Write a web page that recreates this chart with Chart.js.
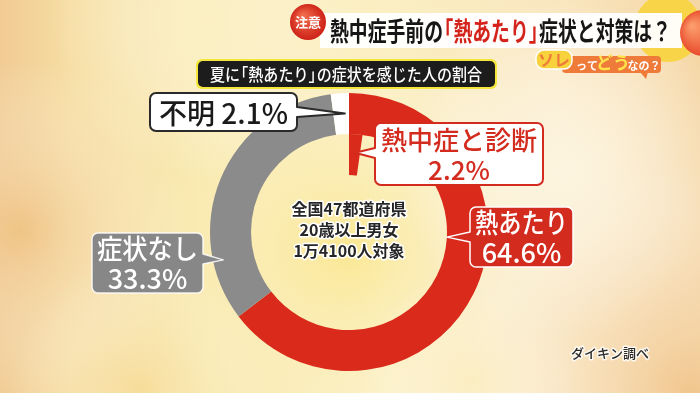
<!DOCTYPE html>
<html lang="ja">
<head>
<meta charset="utf-8">
<title>熱あたり 症状を感じた人の割合</title>
<script src="https://cdn.jsdelivr.net/npm/chart.js@4.4.1/dist/chart.umd.min.js"></script>
<style>
html, body { margin: 0; padding: 0; width: 700px; height: 393px; overflow: hidden; background: #f8e6b0; }
#chart { display: block; }
</style>
</head>
<body>
<canvas id="chart" width="700" height="393"></canvas>
<script>
// 夏に「熱あたり」の症状を感じた人の割合 (ダイキン調べ)
var categories = ['熱あたり', '症状なし', '不明'];
var shares = [64.6, 33.3, 2.1];
// 熱あたりのうち「熱中症と診断」
var subCategory = '熱中症と診断';
var subShare = 2.2;

var centerLines = ['全国47都道府県', '20歳以上男女', '1万4100人対象'];
var titleParts = ['熱中症手前の', '「熱あたり」', '症状と対策は？'];
var subtitle = '夏に「熱あたり」の症状を感じた人の割合';
var source = 'ダイキン調べ';

var RED = '#d92a1b';
var GRAY = '#8b8b8b';
var FONT = '"Noto Sans CJK JP", "Noto Sans", sans-serif';

function pct(v) {
    return v.toFixed(1) + '%';
}

// callout boxes: which arc they point at, and where they sit
var callouts = [
    { ds: 0, idx: 0, lines: [categories[0], pct(shares[0])], box: [470, 207, 103, 60], side: 'left', tailAt: 237,
      tipDeg: 93, tipR: 0.0, fill: '#d42b1f', stroke: '#ffffff', lw: 1.5, color: '#ffffff', size: 27 },
    { ds: 0, idx: 1, lines: [categories[1], pct(shares[1])], box: [92, 233, 111, 60], side: 'right', tailAt: 259,
      tipDeg: 257.5, tipR: 0.75, fill: '#878787', stroke: 'rgba(255,255,255,0.85)', lw: 1.5, color: '#ffffff', size: 27 },
    { ds: 0, idx: 2, lines: [categories[2] + ' ' + pct(shares[2])], box: [150, 93, 147, 38], side: 'right', tailAt: 112,
      tipDeg: 358, tipR: 0.5, fill: '#ffffff', stroke: '#2a2a2a', lw: 2, color: '#1a1a1a', size: 28 },
    { ds: 1, idx: 0, lines: [subCategory, pct(subShare)], box: [375, 123, 168, 62], side: 'left', tailAt: 153,
      tipDeg: 4.3, tipR: 0.55, fill: '#ffffff', stroke: '#d42b1f', lw: 2, color: '#d42b1f', size: 26 }
];

function roundRectPath(ctx, x, y, w, h, r) {
    ctx.beginPath();
    ctx.moveTo(x + r, y);
    ctx.arcTo(x + w, y, x + w, y + h, r);
    ctx.arcTo(x + w, y + h, x, y + h, r);
    ctx.arcTo(x, y + h, x, y, r);
    ctx.arcTo(x, y, x + w, y, r);
    ctx.closePath();
}

function calloutPath(ctx, c, tip) {
    var x = c.box[0], y = c.box[1], w = c.box[2], h = c.box[3], r = 6, half = 5;
    ctx.beginPath();
    ctx.moveTo(x + r, y);
    ctx.lineTo(x + w - r, y);
    ctx.arcTo(x + w, y, x + w, y + r, r);
    if (c.side === 'right') {
        ctx.lineTo(x + w, c.tailAt - half);
        ctx.lineTo(tip.x, tip.y);
        ctx.lineTo(x + w, c.tailAt + half);
    }
    ctx.lineTo(x + w, y + h - r);
    ctx.arcTo(x + w, y + h, x + w - r, y + h, r);
    ctx.lineTo(x + r, y + h);
    ctx.arcTo(x, y + h, x, y + h - r, r);
    if (c.side === 'left') {
        ctx.lineTo(x, c.tailAt + half);
        ctx.lineTo(tip.x, tip.y);
        ctx.lineTo(x, c.tailAt - half);
    }
    ctx.lineTo(x, y + r);
    ctx.arcTo(x, y, x + r, y, r);
    ctx.closePath();
}

function pointOnRing(arc, deg, rFrac) {
    var a = (deg - 90) * Math.PI / 180;
    var r = arc.innerRadius + (arc.outerRadius - arc.innerRadius) * rFrac;
    return { x: arc.x + r * Math.cos(a), y: arc.y + r * Math.sin(a) };
}

function haloText(ctx, text, x, y, font, fill, halo, width) {
    ctx.font = font;
    ctx.lineJoin = 'round';
    ctx.lineWidth = width;
    ctx.strokeStyle = halo;
    ctx.strokeText(text, x, y);
    ctx.fillStyle = fill;
    ctx.fillText(text, x, y);
}

// text with half-width corner brackets, squeezed into a given width
function squeezedText(ctx, parts, x, y, width, size) {
    var glyphs = [];
    var total = 0;
    parts.forEach(function(p) {
        Array.from(p.text).forEach(function(ch) {
            var w = ctx.measureText(ch).width;
            var g = { ch: ch, color: p.color, shift: 0, adv: w };
            if (ch === '「') { g.shift = -size * 0.45; g.adv = size * 0.55; }
            if (ch === '」') { g.adv = size * 0.55; }
            glyphs.push(g);
            total += g.adv;
        });
    });
    ctx.save();
    ctx.translate(x, y);
    ctx.scale(width / total, 1);
    var cx = 0;
    glyphs.forEach(function(g) {
        ctx.fillStyle = g.color;
        ctx.fillText(g.ch, cx + g.shift, 0);
        cx += g.adv;
    });
    ctx.restore();
}

function blob(ctx, x, y, r, color) {
    var g = ctx.createRadialGradient(x, y, 0, x, y, r);
    g.addColorStop(0, color);
    g.addColorStop(1, 'rgba(255,255,255,0)');
    ctx.fillStyle = g;
    ctx.fillRect(0, 0, 700, 393);
}

var backdropPlugin = {
    id: 'backdrop',
    beforeDraw: function(chart) {
        var ctx = chart.ctx, w = chart.width, h = chart.height;
        ctx.save();
        var base = ctx.createLinearGradient(0, 0, w, 0);
        base.addColorStop(0, '#f1cb93');
        base.addColorStop(0.1, '#f6dda2');
        base.addColorStop(0.3, '#f9e9ad');
        base.addColorStop(0.55, '#fbefc3');
        base.addColorStop(0.8, '#f9e6bf');
        base.addColorStop(1, '#f5d6a5');
        ctx.fillStyle = base;
        ctx.fillRect(0, 0, w, h);
        blob(ctx, 20, 230, 170, 'rgba(238,190,125,0.7)');
        blob(ctx, 349, 250, 210, 'rgba(250,226,110,0.55)');
        blob(ctx, 570, 170, 170, 'rgba(253,247,228,0.85)');
        blob(ctx, 690, 393, 230, 'rgba(240,192,132,0.75)');
        blob(ctx, 210, 20, 160, 'rgba(252,242,205,0.7)');
        blob(ctx, 140, 390, 130, 'rgba(246,214,140,0.5)');
        blob(ctx, 470, 380, 110, 'rgba(252,238,190,0.6)');
        ctx.restore();
    }
};

var overlayPlugin = {
    id: 'overlay',
    afterDraw: function(chart) {
        var ctx = chart.ctx;
        var center = chart.getDatasetMeta(0).data[0];
        ctx.save();
        ctx.textAlign = 'center';
        ctx.textBaseline = 'middle';

        // centre note
        centerLines.forEach(function(t, i) {
            haloText(ctx, t, center.x, center.y - 23 + i * 21, 'bold 16px ' + FONT, '#262626', '#ffffff', 3);
        });

        // callouts
        callouts.forEach(function(c) {
            var arc = chart.getDatasetMeta(c.ds).data[c.idx];
            var tip = pointOnRing(arc, c.tipDeg, c.tipR);
            ctx.fillStyle = c.fill;
            ctx.strokeStyle = c.stroke;
            ctx.lineWidth = c.lw;
            ctx.lineJoin = 'round';
            calloutPath(ctx, c, tip);
            ctx.fill();
            ctx.stroke();
            var bx = c.box[0] + c.box[2] / 2;
            var by = c.box[1] + c.box[3] / 2;
            ctx.fillStyle = c.color;
            ctx.font = '500 ' + c.size + 'px ' + FONT;
            c.lines.forEach(function(t, i) {
                var y = by + (i - (c.lines.length - 1) / 2) * 30 + 1;
                ctx.fillText(t, bx, y, c.box[2] - 10);
            });
        });

        // source
        haloText(ctx, source, 610, 353, '500 13px ' + FONT, '#2a2a2a', 'rgba(255,255,255,0.8)', 3);

        // subtitle bar
        ctx.fillStyle = '#f4e63a';
        roundRectPath(ctx, 196, 59, 301, 30, 6);
        ctx.fill();
        ctx.fillStyle = '#1c1c1c';
        roundRectPath(ctx, 198, 61, 297, 26, 5);
        ctx.fill();
        ctx.textAlign = 'left';
        ctx.font = '500 17px ' + FONT;
        squeezedText(ctx, [{ text: subtitle, color: '#ffffff' }], 210, 74.5, 272, 17);

        // header decorations
        ctx.fillStyle = '#f8d548';
        ctx.beginPath();
        ctx.arc(668, 28, 34, 0, Math.PI * 2);
        ctx.fill();
        ctx.fillStyle = 'rgba(255,255,255,0.95)';
        ctx.fillRect(320, 13, 362, 35);
        var ball = ctx.createRadialGradient(692, 26, 2, 702, 33, 24);
        ball.addColorStop(0, '#fb9a6a');
        ball.addColorStop(1, '#e8492a');
        ctx.fillStyle = ball;
        ctx.beginPath();
        ctx.arc(703, 33, 23, 0, Math.PI * 2);
        ctx.fill();

        // title, squeezed like the broadcast font
        ctx.font = 'bold 26px ' + FONT;
        squeezedText(ctx, [
            { text: titleParts[0], color: '#161616' },
            { text: titleParts[1], color: '#d4231a' },
            { text: titleParts[2], color: '#161616' }
        ], 330, 31, 341, 26);

        // 注意 badge
        var badge = ctx.createRadialGradient(303, 16, 2, 308, 22, 19);
        badge.addColorStop(0, '#f06a4c');
        badge.addColorStop(1, '#cc1f14');
        ctx.fillStyle = badge;
        ctx.beginPath();
        ctx.arc(308, 22, 18, 0, Math.PI * 2);
        ctx.fill();
        ctx.textAlign = 'center';
        ctx.fillStyle = '#ffffff';
        ctx.font = 'bold 13px ' + FONT;
        ctx.fillText('注意', 308, 22, 28);

        // ソレってどうなの？ tag
        ctx.fillStyle = '#ee7b3a';
        roundRectPath(ctx, 562, 56, 99, 17, 4);
        ctx.fill();
        ctx.beginPath();
        ctx.moveTo(640, 72);
        ctx.lineTo(646, 79);
        ctx.lineTo(648, 72);
        ctx.fill();
        ctx.fillStyle = '#f8d23c';
        ctx.strokeStyle = '#ffffff';
        ctx.lineWidth = 1.5;
        roundRectPath(ctx, 536, 50, 36, 19, 8);
        ctx.fill();
        ctx.stroke();
        ctx.fillStyle = '#ee7b3a';
        ctx.font = 'bold 16px ' + FONT;
        ctx.fillText('ソレ', 554, 60, 32);
        ctx.fillStyle = '#ffffff';
        ctx.font = 'bold 11px ' + FONT;
        ctx.fillText('って', 587, 66);
        ctx.fillStyle = '#ffe14a';
        ctx.font = 'bold 17px ' + FONT;
        ctx.fillText('どう', 613, 63);
        ctx.fillStyle = '#ffffff';
        ctx.font = 'bold 11px ' + FONT;
        ctx.fillText('なの？', 644, 66);

        ctx.restore();
    }
};

new Chart(document.getElementById('chart'), {
    type: 'doughnut',
    data: {
        labels: categories,
        datasets: [{
            data: shares,
            backgroundColor: [RED, GRAY, '#ffffff'],
            borderWidth: 0
        }, {
            label: subCategory,
            data: [subShare, 100 - subShare],
            backgroundColor: [RED, 'rgba(0,0,0,0)'],
            borderWidth: 0
        }]
    },
    options: {
        responsive: false,
        animation: false,
        events: [],
        cutout: '41%',
        layout: { padding: { left: 210, top: 93, right: 212, bottom: 22 } },
        plugins: {
            legend: { display: false },
            tooltip: { enabled: false }
        }
    },
    plugins: [backdropPlugin, overlayPlugin]
});
</script>
</body>
</html>
